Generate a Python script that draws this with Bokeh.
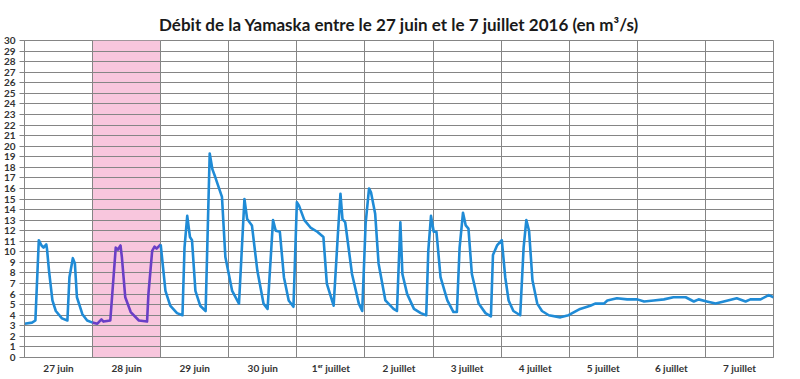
from bokeh.plotting import figure
from bokeh.models import FixedTicker, Range1d, BoxAnnotation
from bokeh.embed import file_html
from bokeh.resources import INLINE

# Time in days since 27 juin 00:00, flow in m3/s
t_days = [0.00, 0.11, 0.16, 0.21, 0.25, 0.28, 0.32, 0.33, 0.36, 0.41, 0.46, 0.55, 0.63, 0.66,
          0.71, 0.74, 0.77, 0.85, 0.92, 1.00,
          1.07, 1.13, 1.16, 1.26, 1.34, 1.37, 1.41, 1.43, 1.48, 1.56, 1.68, 1.80, 1.82, 1.875,
          1.91, 1.94, 2.00,
          2.07, 2.14, 2.24, 2.32, 2.35, 2.39, 2.43, 2.46, 2.51, 2.58, 2.66, 2.72, 2.76, 2.80,
          2.90, 2.95, 3.05, 3.15, 3.23, 3.27, 3.34, 3.42, 3.51, 3.57, 3.65, 3.69, 3.75, 3.81,
          3.88, 3.95, 4.00, 4.03, 4.11, 4.20, 4.30, 4.39, 4.44, 4.54, 4.60, 4.64, 4.67, 4.71,
          4.81, 4.91, 4.96, 5.01, 5.06, 5.09, 5.15, 5.20, 5.30, 5.42, 5.47, 5.52, 5.55, 5.62,
          5.72, 5.82, 5.90, 5.93, 5.97, 6.01, 6.05, 6.11, 6.21, 6.30, 6.35, 6.39, 6.44, 6.48,
          6.52, 6.57, 6.67, 6.77, 6.85, 6.88, 6.94, 7.01, 7.02, 7.06, 7.11, 7.18, 7.28, 7.33,
          7.37, 7.41, 7.46, 7.53, 7.60, 7.70, 7.87, 7.99, 8.16, 8.31, 8.38, 8.51, 8.56, 8.70,
          8.85, 9.00, 9.10, 9.24, 9.39, 9.53, 9.71, 9.83, 9.90, 10.02, 10.15, 10.27, 10.46,
          10.59, 10.66, 10.81, 10.93, 11.00]
debit = [3.2, 3.3, 3.5, 11.1, 10.6, 10.4, 10.7, 10.3, 8.2, 5.4, 4.4, 3.7, 3.5, 7.6,
         9.4, 8.9, 5.7, 4.1, 3.5, 3.3,
         3.2, 3.6, 3.4, 3.5, 10.4, 10.2, 10.6, 9.5, 5.7, 4.3, 3.5, 3.4, 6.0, 10.1,
         10.5, 10.3, 10.7,
         6.3, 4.9, 4.2, 4.0, 10.4, 13.4, 11.4, 11.1, 6.3, 4.9, 4.4, 19.3, 17.8, 17.1,
         15.2, 9.5, 6.3, 5.1, 15.0, 13.1, 12.5, 8.2, 5.1, 4.6, 13.0, 12.0, 11.9, 7.6,
         5.4, 4.8, 14.7, 14.4, 13.0, 12.3, 11.9, 11.4, 7.0, 4.9, 11.4, 15.5, 13.1, 12.8,
         7.9, 5.1, 4.4, 12.7, 16.0, 15.6, 13.6, 8.9, 5.4, 4.6, 4.4, 12.8, 7.9, 6.0,
         4.6, 4.2, 4.0, 10.1, 13.4, 11.9, 11.9, 7.6, 5.4, 4.3, 4.3, 10.4, 13.7, 12.5,
         12.2, 7.9, 5.1, 4.2, 3.9, 9.7, 10.6, 11.1, 10.4, 7.6, 5.4, 4.4, 4.0, 10.4,
         13.0, 12.0, 7.3, 5.1, 4.4, 4.0, 3.8, 4.0, 4.6, 4.9, 5.1, 5.1, 5.4, 5.6,
         5.5, 5.5, 5.3, 5.4, 5.5, 5.7, 5.7, 5.3, 5.5, 5.3, 5.1, 5.3, 5.6,
         5.3, 5.5, 5.5, 5.9, 5.7]

day_labels = ["27 juin", "28 juin", "29 juin", "30 juin", "1\u1d49\u02b3 juillet", "2 juillet",
              "3 juillet", "4 juillet", "5 juillet", "6 juillet", "7 juillet"]
highlight_day = 1  # 28 juin

n_days = len(day_labels)
p = figure(width=790, height=378, x_range=Range1d(0, n_days), y_range=Range1d(0, 30),
           output_backend="svg", toolbar_location=None,
           min_border_left=24, min_border_right=17, min_border_top=40, min_border_bottom=21)

p.title.text = "Débit de la Yamaska entre le 27 juin et le 7 juillet 2016 (en m³/s)"
p.title.align = "center"
p.title.text_font = "Lato"
p.title.text_font_size = "17px"
p.title.text_font_style = "bold"
p.title.text_color = "#1a1a1a"
p.title.standoff = 12

grid_col = "#858585"
p.background_fill_color = "white"
p.border_fill_color = "white"
p.outline_line_color = grid_col

p.add_layout(BoxAnnotation(left=highlight_day, right=highlight_day + 1, fill_color="#F8C6DD",
                           fill_alpha=1.0, line_color=None, level="image"))

p.xgrid.ticker = FixedTicker(ticks=list(range(n_days + 1)))
p.ygrid.ticker = FixedTicker(ticks=list(range(31)))
p.xgrid.grid_line_color = grid_col
p.ygrid.grid_line_color = grid_col
p.xgrid.grid_line_width = 1
p.ygrid.grid_line_width = 1

p.yaxis.ticker = FixedTicker(ticks=list(range(31)))
p.yaxis.major_tick_out = 5
p.yaxis.major_tick_in = 0
p.yaxis.minor_tick_line_color = None
p.yaxis.major_tick_line_color = grid_col
p.yaxis.axis_line_color = grid_col
p.yaxis.major_label_standoff = 4
p.yaxis.major_label_text_font = "Lato"
p.yaxis.major_label_text_font_style = "bold"
p.yaxis.major_label_text_font_size = "10px"
p.yaxis.major_label_text_color = "#333333"

centers = [i + 0.5 for i in range(n_days)]
p.xaxis.ticker = FixedTicker(ticks=centers)
p.xaxis.major_label_overrides = {c: lab for c, lab in zip(centers, day_labels)}
p.xaxis.major_tick_line_color = None
p.xaxis.minor_tick_line_color = None
p.xaxis.major_tick_out = 0
p.xaxis.axis_line_color = grid_col
p.xaxis.major_label_standoff = 4
p.xaxis.major_label_text_font = "Lato"
p.xaxis.major_label_text_font_style = "bold"
p.xaxis.major_label_text_font_size = "10px"
p.xaxis.major_label_text_color = "#333333"

lo, hi = highlight_day, highlight_day + 1
pre = [(t, q) for t, q in zip(t_days, debit) if t <= lo]
mid = [(t, q) for t, q in zip(t_days, debit) if lo <= t <= hi]
post = [(t, q) for t, q in zip(t_days, debit) if t >= hi]

blue = "#1f8bd6"
purple = "#6a3fc6"
for seg, col in ((pre, blue), (mid, purple), (post, blue)):
    p.line([s[0] for s in seg], [s[1] for s in seg], line_color=col, line_width=2.6,
           line_join="round")

open("out.html", "w").write(file_html(p, INLINE))
